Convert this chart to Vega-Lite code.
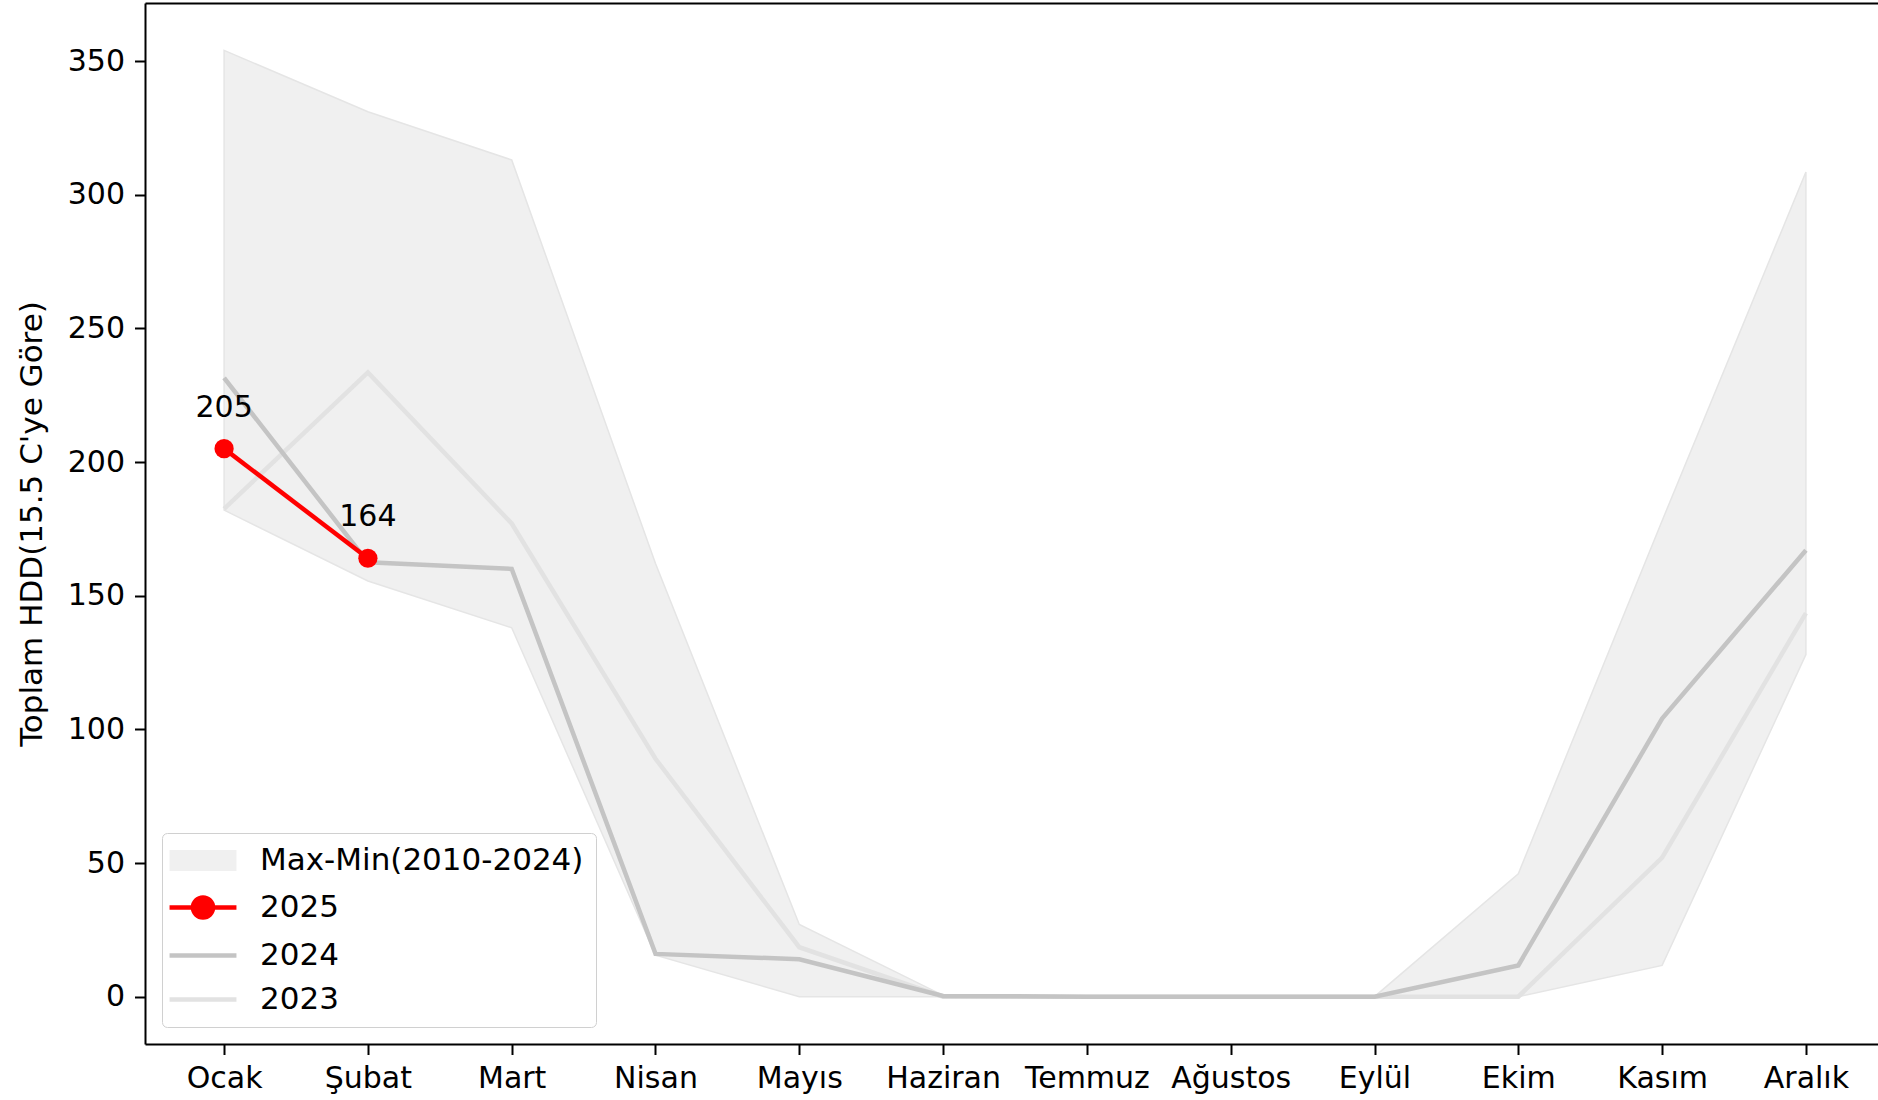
{
  "$schema": "https://vega.github.io/schema/vega-lite/v6.json",
  "autosize": {"type": "none"},
  "padding": {"left": 145, "top": 3, "right": 0, "bottom": 56},
  "width": 1733,
  "height": 1041,
  "background": "white",
  "datasets": {
    "band": [
      {"m": 0, "month": "Ocak", "lo": 182, "hi": 354},
      {"m": 1, "month": "Şubat", "lo": 155.5, "hi": 331},
      {"m": 2, "month": "Mart", "lo": 138, "hi": 313},
      {"m": 3, "month": "Nisan", "lo": 15.5, "hi": 162},
      {"m": 4, "month": "Mayıs", "lo": 0, "hi": 27},
      {"m": 5, "month": "Haziran", "lo": 0, "hi": 0.5},
      {"m": 6, "month": "Temmuz", "lo": 0, "hi": 0},
      {"m": 7, "month": "Ağustos", "lo": 0, "hi": 0},
      {"m": 8, "month": "Eylül", "lo": 0, "hi": 0},
      {"m": 9, "month": "Ekim", "lo": 0, "hi": 46},
      {"m": 10, "month": "Kasım", "lo": 11.7, "hi": 178},
      {"m": 11, "month": "Aralık", "lo": 128, "hi": 308.5}
    ],
    "lines": [
      {"m": 0, "series": "2023", "hdd": 182.5},
      {"m": 1, "series": "2023", "hdd": 233.5},
      {"m": 2, "series": "2023", "hdd": 177},
      {"m": 3, "series": "2023", "hdd": 89},
      {"m": 4, "series": "2023", "hdd": 18.5},
      {"m": 5, "series": "2023", "hdd": 0},
      {"m": 6, "series": "2023", "hdd": 0},
      {"m": 7, "series": "2023", "hdd": 0},
      {"m": 8, "series": "2023", "hdd": 0},
      {"m": 9, "series": "2023", "hdd": 0},
      {"m": 10, "series": "2023", "hdd": 52},
      {"m": 11, "series": "2023", "hdd": 143.5},
      {"m": 0, "series": "2024", "hdd": 231.5},
      {"m": 1, "series": "2024", "hdd": 162.5},
      {"m": 2, "series": "2024", "hdd": 160},
      {"m": 3, "series": "2024", "hdd": 16},
      {"m": 4, "series": "2024", "hdd": 14},
      {"m": 5, "series": "2024", "hdd": 0.3},
      {"m": 6, "series": "2024", "hdd": 0},
      {"m": 7, "series": "2024", "hdd": 0},
      {"m": 8, "series": "2024", "hdd": 0},
      {"m": 9, "series": "2024", "hdd": 11.7},
      {"m": 10, "series": "2024", "hdd": 104},
      {"m": 11, "series": "2024", "hdd": 167},
      {"m": 0, "series": "2025", "hdd": 205},
      {"m": 1, "series": "2025", "hdd": 164}
    ]
  },
  "layer": [
    {
      "data": {"name": "band"},
      "mark": {"type": "area", "fill": "#f0f0f0", "stroke": "#e5e5e5", "strokeWidth": 1.5, "interpolate": "linear"},
      "encoding": {
        "x": {
          "field": "m", "type": "quantitative",
          "scale": {"domain": [-0.55, 11.5013], "nice": false, "zero": false},
          "axis": {
            "orient": "bottom",
            "values": [0,1,2,3,4,5,6,7,8,9,10,11],
            "labelExpr": "['Ocak','Şubat','Mart','Nisan','Mayıs','Haziran','Temmuz','Ağustos','Eylül','Ekim','Kasım','Aralık'][datum.value]",
            "title": null, "grid": false,
            "domain": true, "domainColor": "black", "domainWidth": 2,
            "tickSize": 10.5, "tickWidth": 2, "tickColor": "black",
            "labelPadding": 9, "labelFont": "DejaVu Sans", "labelFontSize": 30, "labelColor": "black",
            "labelFlush": false, "labelOverlap": false
          }
        },
        "y": {
          "field": "hi", "type": "quantitative",
          "scale": {"domain": [-17.7, 371.7], "nice": false, "zero": false},
          "axis": {
            "values": [0,50,100,150,200,250,300,350],
            "title": "Toplam HDD(15.5 C'ye Göre)",
            "titleFont": "DejaVu Sans", "titleFontSize": 31, "titleFontWeight": "normal", "titleColor": "black",
            "titlePadding": 19,
            "grid": false,
            "domain": true, "domainColor": "black", "domainWidth": 2,
            "tickSize": 10.5, "tickWidth": 2, "tickColor": "black",
            "labelPadding": 10, "labelFont": "DejaVu Sans", "labelFontSize": 30, "labelColor": "black"
          }
        },
        "y2": {"field": "lo"}
      }
    },
    {
      "data": {"name": "lines"},
      "mark": {"type": "line", "strokeWidth": 4.5, "interpolate": "linear"},
      "encoding": {
        "x": {"field": "m", "type": "quantitative", "axis": null},
        "y": {"field": "hdd", "type": "quantitative"},
        "stroke": {
          "field": "series", "type": "nominal",
          "scale": {
            "domain": ["Max-Min(2010-2024)", "2025", "2024", "2023"],
            "range": ["#e5e5e5", "red", "#c4c4c4", "#e2e2e2"]
          },
          "legend": {
            "title": null,
            "orient": "bottom-left",
            "offset": 17,
            "padding": 12,
            "fillColor": "white",
            "strokeColor": "#d0d0d0",
            "cornerRadius": 5,
            "symbolSize": 900,
            "symbolStrokeWidth": 4.5,
            "labelFont": "DejaVu Sans",
            "labelFontSize": 31,
            "labelColor": "black",
            "labelOffset": 55,
            "labelLimit": 600,
            "rowPadding": 12,
            "encode": {
              "symbols": {
                "update": {
                  "shape": {"signal": "datum.value === '2025' ? 'M-1.33,0H3.13M0.233,0A0.667,0.667 0 1,0 1.567,0A0.667,0.667 0 1,0 0.233,0' : (datum.value === 'Max-Min(2010-2024)' ? 'M-1.33,-0.7H3.13V0.7H-1.33Z' : 'M-1.33,0H3.13')"},
                  "fill": {"signal": "datum.value === '2025' ? 'red' : (datum.value === 'Max-Min(2010-2024)' ? '#f0f0f0' : 'transparent')"},
                  "stroke": {"signal": "datum.value === '2025' ? 'red' : (datum.value === '2024' ? '#c4c4c4' : (datum.value === '2023' ? '#e2e2e2' : '#f0f0f0'))"},
                  "strokeWidth": {"signal": "datum.value === 'Max-Min(2010-2024)' ? 0 : 4.5"},
                  "opacity": {"value": 1}
                }
              }
            }
          }
        },
        "order": {"field": "m", "type": "quantitative"}
      }
    },
    {
      "data": {"name": "lines"},
      "transform": [{"filter": "datum.series === '2025'"}],
      "mark": {"type": "point", "shape": "circle", "filled": true, "fill": "red", "size": 370, "opacity": 1},
      "encoding": {
        "x": {"field": "m", "type": "quantitative", "axis": null},
        "y": {"field": "hdd", "type": "quantitative"}
      }
    },
    {
      "data": {"name": "lines"},
      "transform": [{"filter": "datum.series === '2025'"}],
      "mark": {"type": "text", "font": "DejaVu Sans", "fontSize": 30, "color": "black", "align": "center", "baseline": "alphabetic", "dy": -32},
      "encoding": {
        "x": {
          "field": "m", "type": "quantitative",
          "axis": {"orient": "top", "labels": false, "ticks": false, "grid": false, "title": null,
                   "domain": true, "domainColor": "black", "domainWidth": 2}
        },
        "y": {"field": "hdd", "type": "quantitative"},
        "text": {"field": "hdd", "type": "quantitative"}
      }
    }
  ],
  "resolve": {"axis": {"x": "independent"}},
  "config": {
    "view": {"stroke": null}
  }
}
